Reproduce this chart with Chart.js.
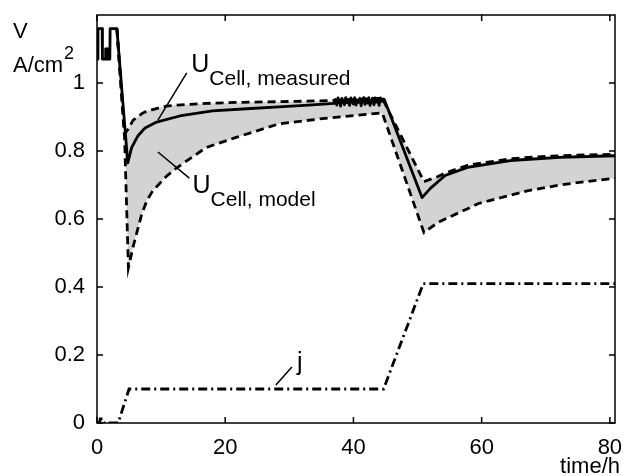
<!DOCTYPE html>
<html lang="en">
<head>
  <meta charset="UTF-8" />
  <title>Cell voltage and current density</title>
  <script src="https://cdn.jsdelivr.net/npm/chart.js"></script>
  <style>
    html, body { margin: 0; padding: 0; background: #fff; }
  </style>
</head>
<body>
  <canvas id="chart" width="625" height="476"></canvas>

  <script>
    // measured cell voltage (V) over time (h)
    const measTime = [0, 0.15, 0.8, 0.85, 1.3, 1.35, 1.6, 1.65, 2.0, 2.05, 3.1, 4.8, 5.4, 6.4, 7.5, 9.3, 12.9, 18, 24, 28.4, 33,
      37.0, 37.2, 37.4, 37.6, 37.8, 38.0, 38.2, 38.4, 38.6, 38.8, 39.0, 39.2, 39.4, 39.6, 39.8, 40.0, 40.2, 40.4, 40.6, 40.8,
      41.0, 41.2, 41.4, 41.6, 41.8, 42.0, 42.2, 42.4, 42.6, 42.8, 43.0, 43.2, 43.4, 43.6, 43.8, 44.0, 44.2, 44.4, 44.6, 44.8,
      50.7, 52, 54.3, 57.8, 64.5, 72.2, 80.8];
    const measVolt = [1.07, 1.16, 1.16, 1.07, 1.07, 1.1, 1.1, 1.07, 1.07, 1.16, 1.16, 0.765, 0.81, 0.845, 0.868, 0.885, 0.903, 0.918, 0.925, 0.93, 0.935,
      0.940, 0.952, 0.935, 0.956, 0.944, 0.932, 0.955, 0.947, 0.936, 0.957, 0.942, 0.951, 0.934, 0.956, 0.945, 0.938, 0.957, 0.935, 0.950, 0.943,
      0.955, 0.933, 0.949, 0.957, 0.937, 0.953, 0.941, 0.957, 0.934, 0.948, 0.955, 0.936, 0.956, 0.944, 0.951, 0.934, 0.956, 0.946, 0.953, 0.952,
      0.663, 0.69, 0.728, 0.752, 0.772, 0.781, 0.786];

    // model band (upper / lower bound)
    const modelTime = [3.1, 4.3, 4.9, 5.6, 7.0, 7.8, 8.7, 10.8, 12.4, 17, 21.7, 28.4, 36, 44.5,
      51.0, 53.2, 54.3, 57.8, 59.4, 64.5, 67.1, 72.2, 74.9, 80.8];
    const modelUpper = [1.16, 0.85, 0.865, 0.89, 0.91, 0.918, 0.922, 0.932, 0.935, 0.94, 0.943, 0.945, 0.948, 0.955,
      0.71, 0.725, 0.735, 0.758, 0.763, 0.777, 0.781, 0.786, 0.788, 0.79];
    const modelLower = [1.16, 0.84, 0.457, 0.516, 0.616, 0.655, 0.683, 0.725, 0.75, 0.81, 0.84, 0.88, 0.897, 0.912,
      0.56, 0.59, 0.60, 0.63, 0.645, 0.67, 0.683, 0.70, 0.707, 0.72];

    // current density j (A/cm2)
    const jTime = [0, 0.4, 0.5, 1.0, 1.1, 3.3, 5.0, 44.7, 50.9, 80.8];
    const jValue = [0, 0, 0.012, 0.012, 0, 0, 0.1, 0.1, 0.41, 0.41];

    const xTicks = [0, 20, 40, 60, 80];
    const yTicks = [0, 0.2, 0.4, 0.6, 0.8, 1];

    const FONT = 'Liberation Sans, Arial, Helvetica, sans-serif';
    const pts = (xs, ys) => xs.map((x, i) => ({ x: x, y: ys[i] }));

    // frame, inward ticks and the text labels (matlab style)
    const decorations = {
      id: 'decorations',
      afterDraw(chart) {
        const { ctx, chartArea: a, scales: { x, y } } = chart;
        ctx.save();
        ctx.strokeStyle = '#000';
        ctx.lineWidth = 1.5;
        ctx.strokeRect(a.left, a.top, a.right - a.left, a.bottom - a.top);

        const len = 6;
        ctx.beginPath();
        xTicks.forEach(v => {
          const px = x.getPixelForValue(v);
          ctx.moveTo(px, a.bottom); ctx.lineTo(px, a.bottom - len);
          ctx.moveTo(px, a.top); ctx.lineTo(px, a.top + len);
        });
        yTicks.forEach(v => {
          const py = y.getPixelForValue(v);
          ctx.moveTo(a.left, py); ctx.lineTo(a.left + len, py);
          ctx.moveTo(a.right, py); ctx.lineTo(a.right - len, py);
        });
        ctx.stroke();

        // leader lines
        const seg = (x1, y1, x2, y2) => {
          ctx.beginPath();
          ctx.moveTo(x.getPixelForValue(x1), y.getPixelForValue(y1));
          ctx.lineTo(x.getPixelForValue(x2), y.getPixelForValue(y2));
          ctx.stroke();
        };
        ctx.lineWidth = 1.5;
        seg(14.0, 1.03, 9.5, 0.891);
        seg(9.5, 0.797, 14.4, 0.72);
        seg(27.9, 0.112, 30.4, 0.165);

        ctx.fillStyle = '#000';
        ctx.textAlign = 'left';
        ctx.textBaseline = 'alphabetic';
        const label = (main, sub, tx, ty) => {
          const px = x.getPixelForValue(tx), py = y.getPixelForValue(ty);
          ctx.font = '25px ' + FONT;
          ctx.fillText(main, px, py);
          if (sub) {
            const w = ctx.measureText(main).width;
            ctx.font = '21px ' + FONT;
            ctx.fillText(sub, px + w, py + 13);
          }
        };
        label('U', 'Cell, measured', 14.7, 1.032);
        label('U', 'Cell, model', 14.9, 0.676);
        label('j', null, 31.2, 0.156);

        // axis units
        ctx.font = '22px ' + FONT;
        ctx.fillText('V', 13, 38);
        ctx.fillText('A/cm', 13, 72);
        const w = ctx.measureText('A/cm').width;
        ctx.font = '18px ' + FONT;
        ctx.fillText('2', 13 + w + 1, 59);
        ctx.font = '22px ' + FONT;
        ctx.textAlign = 'right';
        ctx.fillText('time/h', 620, 473);
        ctx.restore();
      }
    };

    new Chart(document.getElementById('chart'), {
      type: 'line',
      data: {
        datasets: [
          {
            data: pts(modelTime, modelUpper),
            borderColor: '#000', borderWidth: 2.8, borderDash: [8, 5],
            backgroundColor: '#d3d3d3', fill: '+1'
          },
          {
            data: pts(modelTime, modelLower),
            borderColor: '#000', borderWidth: 2.8, borderDash: [8, 5],
            fill: false
          },
          {
            data: pts(measTime, measVolt),
            borderColor: '#000', borderWidth: 2.8, borderJoinStyle: 'round', fill: false
          },
          {
            data: pts(jTime, jValue),
            borderColor: '#000', borderWidth: 2.8, borderDash: [9, 4, 2, 4], fill: false
          }
        ]
      },
      options: {
        responsive: false,
        animation: false,
        events: [],
        elements: { point: { radius: 0 }, line: { tension: 0 } },
        layout: { padding: { left: 0, right: 10, top: 15, bottom: 0 } },
        plugins: {
          legend: { display: false },
          tooltip: { enabled: false },
          filler: { drawTime: 'beforeDatasetsDraw' }
        },
        scales: {
          x: {
            type: 'linear', min: 0, max: 80.8,
            grid: { display: false }, border: { display: false },
            afterBuildTicks: s => { s.ticks = xTicks.map(v => ({ value: v })); },
            afterFit: s => { s.height = 53; s.paddingLeft = 0; s.paddingRight = 0; },
            ticks: { color: '#000', font: { family: FONT, size: 22 }, padding: 4, maxRotation: 0, autoSkip: false }
          },
          y: {
            type: 'linear', min: 0, max: 1.2,
            grid: { display: false }, border: { display: false },
            afterBuildTicks: s => { s.ticks = yTicks.map(v => ({ value: v })); },
            afterFit: s => { s.width = 97; s.paddingTop = 0; s.paddingBottom = 0; },
            ticks: {
              color: '#000', font: { family: FONT, size: 22 }, padding: 4,
              callback: v => String(+v.toFixed(1))
            }
          }
        }
      },
      plugins: [decorations]
    });
  </script>
</body>
</html>
